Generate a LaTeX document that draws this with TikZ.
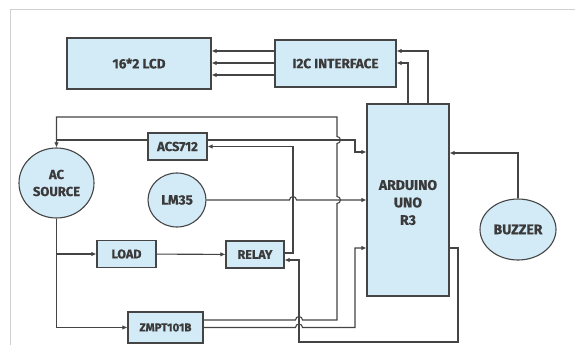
\documentclass[tikz,border=0pt]{standalone}
\usepackage{fontspec}
\setmainfont{Fira Sans}[BoldFeatures={FakeBold=0.6}]
\usetikzlibrary{arrows.meta,shapes.geometric}
\definecolor{boxfill}{HTML}{D3EAF7}
\definecolor{boxline}{HTML}{454545}
\definecolor{wire}{HTML}{444444}
\definecolor{txt}{HTML}{3A3A3A}
\definecolor{framec}{HTML}{D0D0D0}
\newcommand{\fsz}[1]{\bfseries\fontsize{#1}{1.3\dimexpr#1pt\relax}\selectfont}
\begin{document}
\begin{tikzpicture}[x=1pt,y=-1pt,
  blk/.style={draw=boxline,fill=boxfill,line width=1.1pt,inner sep=0pt,text=txt,align=center,font=\fsz{12.5}},
  rbox/.style={blk,rectangle},
  oval/.style={blk,ellipse},
  wireline/.style={draw=wire,line width=1.1pt},
  arr/.style={wireline,-{Latex[length=5pt,width=4.5pt]}},
]
\useasboundingbox (0,0) rectangle (575,345);
\draw[framec,line width=0.8pt] (10,345) -- (10,9) -- (575,9);

% nodes
\node[rbox,minimum width=144pt,minimum height=51pt,font=\fsz{13.5}] (lcd) at (139,63.5) {16*2 LCD};
\node[rbox,minimum width=121pt,minimum height=47pt,font=\fsz{13.5}] (i2c) at (335.5,63.5) {I2C INTERFACE};
\node[rbox,minimum width=82pt,minimum height=192pt] (ard) at (408,200) {};
\node[text=txt,font=\bfseries\fontsize{14}{17.5}\selectfont,align=center] (ardtxt) at (408,202.5) {ARDUINO\\UNO\\R3};
\node[oval,minimum width=76pt,minimum height=61pt,font=\fsz{14}] (buzz) at (518,229.5) {BUZZER};
\node[oval,minimum width=75pt,minimum height=70pt,font=\bfseries\fontsize{13}{17}\selectfont] (ac) at (56.5,183) {AC\\SOURCE};
\node[rbox,minimum width=59pt,minimum height=27pt,font=\fsz{13}] (acs) at (177.5,146.5) {ACS712};
\node[oval,minimum width=58pt,minimum height=54pt,font=\fsz{13.5}] (lm) at (177,200) {LM35};
\node[rbox,minimum width=59pt,minimum height=27pt] (load) at (126.5,254) {LOAD};
\node[rbox,minimum width=58pt,minimum height=27pt] (relay) at (255,254.5) {RELAY};
\node[rbox,minimum width=75pt,minimum height=31pt,font=\fsz{11.5}] (zmpt) at (165.5,327.5) {ZMPT101B};

% I2C -> LCD
\foreach \s in {12.5,0.5,-11.5}
  \draw[arr] ([yshift=\s pt]i2c.west) -- ([yshift=\s pt]lcd.east);
% Arduino -> I2C
\draw[arr] ([xshift=20pt]ard.north) |- ([yshift=12.5pt]i2c.east);
\draw[arr] (ard.north) |- ([yshift=0.5pt]i2c.east);
% Buzzer -> Arduino
\draw[arr] (buzz.north) |- ([yshift=47pt]ard.east);
% ZMPT -> AC source (top loop)
\draw[arr] ([yshift=7.5pt]zmpt.east) -- (295.5,320) .. controls (295.5,315.5) and (302.5,315.5) .. (302.5,320)
  -- (337,320) -- (337,203.5) .. controls (341.5,203.5) and (341.5,196.5) .. (337,196.5)
  -- (337,143.5) .. controls (341.5,143.5) and (341.5,136.5) .. (337,136.5)
  -- (337,117) -- (56.5,117) -- (ac.north);
% ACS712 -> AC source and Arduino
\draw[wireline] ([yshift=6.5pt]acs.west) -- (56.5,140);
\draw[arr] ([yshift=6.5pt]acs.east) -- (355,140) -- (355,152) -- ([yshift=48pt]ard.west);
% Relay -> ACS712
\draw[arr] ([yshift=1.5pt]relay.east) -- (293,253) -- (293,146.5) -- (acs.east);
% LM35 -> Arduino
\draw[arr] (lm.east) -- (289.5,200) .. controls (289.5,195.5) and (296.5,195.5) .. (296.5,200) -- (ard.west);
% AC source -> LOAD, ZMPT
\draw[arr] (ac.south) -- (56.5,254) -- (load.west);
\draw[arr] (56.5,254) -- (56.5,327.5) -- (zmpt.west);
\draw[arr] (load) -- (relay);
% ZMPT -> Arduino
\draw[arr] (zmpt.east) -- (295.5,327.5) .. controls (295.5,323) and (302.5,323) .. (302.5,327.5)
  -- (355,327.5) -- (355,248) -- ([yshift=-48pt]ard.west);
% Arduino -> Relay
\draw[arr] ([yshift=-48pt]ard.east) -- (458,248) -- (458,342) -- (299,342) -- (299,260) -- ([yshift=-5.5pt]relay.east);
\end{tikzpicture}
\end{document}
